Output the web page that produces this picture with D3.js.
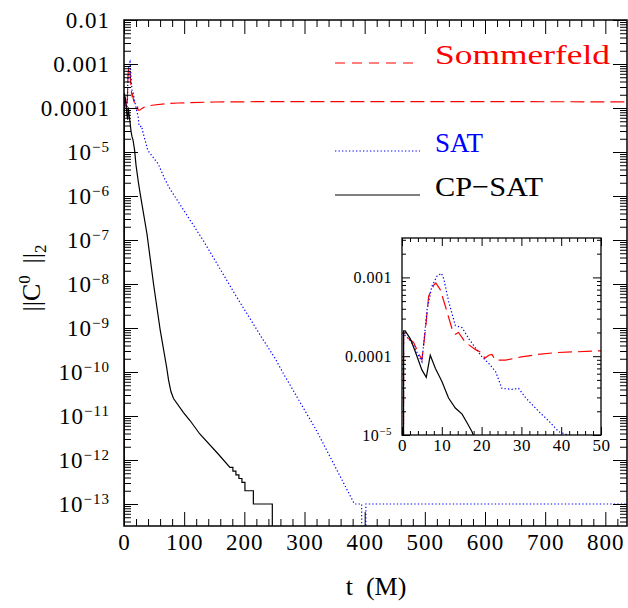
<!DOCTYPE html>
<html>
<head>
<meta charset="utf-8">
<script src="https://cdn.jsdelivr.net/npm/d3@7"></script>
<style>
  body { margin: 0; background: #fff; }
  svg { display: block; }
</style>
</head>
<body>
<svg id="chart" width="628" height="608"></svg>
<script>
// Constraint violation norm vs time, three boundary treatments (value 0 = exactly zero)
const sommerfeld = [
  [0, 0], [0.4, 2.0e-4], [1, 1.85e-4], [1.7, 1.66e-4], [2.9, 1.5e-4], [4.2, 1.08e-4],
  [5.0, 9.0e-5], [5.9, 2.2e-4], [6.7, 5.8e-4], [8.0, 8.0e-4], [8.5, 8.5e-4], [9.6, 7.0e-4],
  [10.9, 4.3e-4], [12.6, 2.2e-4], [13.4, 1.9e-4], [14.2, 2.0e-4], [15.9, 1.5e-4],
  [18.4, 1.22e-4], [20.1, 1.1e-4], [20.8, 9.4e-5], [21.8, 1.03e-4], [22.6, 1.05e-4],
  [23.5, 8.9e-5], [26, 8.9e-5], [30, 9.8e-5], [34, 1.05e-4], [38.5, 1.11e-4], [50, 1.17e-4],
  [70, 1.25e-4], [90, 1.3e-4], [150, 1.37e-4], [250, 1.4e-4], [500, 1.4e-4], [836, 1.38e-4]
];
const sat = [
  [0, 0], [0.4, 1.9e-4], [1, 1.8e-4], [2, 1.6e-4], [3, 1.35e-4], [4, 1.05e-4], [5, 8.5e-5],
  [6.3, 3.9e-4], [7.5, 7.7e-4], [8.8, 1.04e-3], [9.9, 1.13e-3], [10.5, 9.6e-4], [11.7, 5.0e-4],
  [13.4, 2.45e-4], [15.1, 2.3e-4], [16.8, 1.66e-4], [20.1, 9.8e-5], [21.8, 8.1e-5],
  [23.5, 6.4e-5], [25.1, 3.9e-5], [27.6, 3.8e-5], [29.3, 3.9e-5], [31, 3.0e-5], [34.3, 2.0e-5],
  [36.9, 1.5e-5], [39.4, 1.1e-5], [57, 5.3e-6], [68, 2.4e-6], [76.8, 1.42e-6], [132, 9.6e-8],
  [187.5, 5.0e-9], [231.6, 5.3e-10], [251, 2.05e-10], [264.8, 9.3e-11], [320.2, 4.6e-12],
  [383, 1e-13], [395, 1e-13], [396, 0], [401, 0], [402, 1e-13], [836, 1e-13]
];
const cpsat = [
  [0, 0], [0.4, 2.1e-4], [0.8, 2.1e-4], [2.1, 1.66e-4], [3.35, 1.14e-4], [5, 6.7e-5],
  [6.1, 5.4e-5], [7.1, 1.03e-4], [8.4, 7.0e-5], [10, 4.8e-5], [11.7, 2.95e-5], [13.4, 2.2e-5],
  [15.1, 1.84e-5], [16.3, 1.44e-5], [17.6, 1.1e-5], [20, 5e-6], [24, 2e-6], [27, 1.1e-6],
  [38.2, 1.37e-7], [49.1, 1e-8], [60.2, 8.9e-10], [70.8, 1.3e-10], [74, 6.6e-11], [78, 3.6e-11],
  [82.3, 2.5e-11], [98.9, 1.2e-11], [110, 7.8e-12], [126, 3.9e-12], [156.6, 1.37e-12],
  [176, 6.8e-13], [181, 6.8e-13], [181, 5.6e-13], [186, 5.6e-13], [186, 4.6e-13],
  [191, 4.6e-13], [191, 3.8e-13], [196, 3.8e-13], [196, 3.1e-13], [201, 3.1e-13],
  [201, 2e-13], [215, 2e-13], [215, 1e-13], [246.5, 1e-13], [246.5, 0], [836, 0]
];

const seriesNames = ["Sommerfeld", "SAT", "CP\u2212SAT"];

// axis ticks and labels
const mainXTicks = [0, 100, 200, 300, 400, 500, 600, 700, 800];
const mainXLabels = ["0", "100", "200", "300", "400", "500", "600", "700", "800"];
const mainYTicks = [1e-2, 1e-3, 1e-4, 1e-5, 1e-6, 1e-7, 1e-8, 1e-9, 1e-10, 1e-11, 1e-12, 1e-13];
const mainYLabels = ["0.01", "0.001", "0.0001", "10^\u22125", "10^\u22126", "10^\u22127", "10^\u22128",
  "10^\u22129", "10^\u221210", "10^\u221211", "10^\u221212", "10^\u221213"];
const insetXTicks = [0, 10, 20, 30, 40, 50];
const insetXLabels = ["0", "10", "20", "30", "40", "50"];
const insetYTicks = [1e-3, 1e-4, 1e-5];
const insetYLabels = ["0.001", "0.0001", "10^\u22125"];

const FONT = '"Liberation Serif", "Times New Roman", serif';
const svg = d3.select("#chart");
const FLOOR = 1e-30; // zeros are drawn off the bottom of the log axis

const styles = [
  { data: sommerfeld, color: "#ff0000", dash: "14,6", legendDash: "10,7" },
  { data: sat, color: "#0000ff", dash: "1.3,2.2", legendDash: "1.3,2.2" },
  { data: cpsat, color: "#000000", dash: null, legendDash: null }
];

// minor ticks for a log domain: 2..9 in every decade
function logMinor(lo, hi) {
  const out = [];
  for (let e = Math.floor(Math.log10(lo)) - 1; e <= Math.ceil(Math.log10(hi)); e++) {
    for (let k = 2; k <= 9; k++) {
      const v = k * Math.pow(10, e);
      if (v > lo && v < hi) out.push(v);
    }
  }
  return out;
}

// writes "10^-5" as base + superscript
function setLabel(sel, label, supSize) {
  sel.text(null);
  const parts = label.split("^");
  sel.append("tspan").text(parts[0]);
  if (parts.length > 1) {
    sel.append("tspan")
      .attr("dy", -supSize * 0.55)
      .style("font-size", supSize + "px")
      .text(parts[1]);
  }
}

function drawPanel(g, box, opt) {
  const x = d3.scaleLinear().domain(opt.xDomain).range([box.left, box.right]);
  const y = d3.scaleLog().domain(opt.yDomain).range([box.bottom, box.top]);

  g.append("rect")
    .attr("x", box.left).attr("y", box.top)
    .attr("width", box.right - box.left).attr("height", box.bottom - box.top)
    .attr("fill", "#fff");

  const clipId = "clip-" + opt.id;
  g.append("clipPath").attr("id", clipId)
    .append("rect")
    .attr("x", box.left).attr("y", box.top)
    .attr("width", box.right - box.left).attr("height", box.bottom - box.top);

  const line = d3.line()
    .x(d => x(d[0]))
    .y(d => y(Math.max(d[1], FLOOR)));

  const curves = g.append("g").attr("clip-path", `url(#${clipId})`);
  styles.forEach(s => {
    const pts = s.data.filter((d, i, a) => d[0] <= opt.xDomain[1] || (i > 0 && a[i - 1][0] <= opt.xDomain[1]));
    curves.append("path")
      .datum(pts)
      .attr("fill", "none")
      .attr("stroke", s.color)
      .attr("stroke-width", opt.lineWidth)
      .attr("stroke-dasharray", s.dash)
      .attr("d", line);
  });

  const tickStyle = sel => {
    sel.attr("font-family", FONT);
    sel.select(".domain").remove();
    sel.selectAll(".tick line").attr("stroke", "#000").attr("stroke-width", 1);
  };

  // bottom and top axes, ticks pointing inward
  g.append("g")
    .attr("transform", `translate(0,${box.bottom})`)
    .call(d3.axisBottom(x).tickValues(opt.xTicks).tickSize(-opt.major).tickPadding(opt.xPad)
      .tickFormat((d, i) => opt.xLabels[i]))
    .call(tickStyle)
    .call(a => a.selectAll(".tick text")
      .attr("fill", "#000")
      .style("font-family", FONT)
      .style("font-size", opt.xFont + "px")
      .style("letter-spacing", opt.spacing + "px"));
  g.append("g")
    .attr("transform", `translate(0,${box.bottom})`)
    .call(d3.axisBottom(x).tickValues(opt.xMinor).tickSize(-opt.minor).tickFormat(""))
    .call(tickStyle);
  g.append("g")
    .attr("transform", `translate(0,${box.top})`)
    .call(d3.axisTop(x).tickValues(opt.xTicks).tickSize(-opt.major).tickFormat(""))
    .call(tickStyle);
  g.append("g")
    .attr("transform", `translate(0,${box.top})`)
    .call(d3.axisTop(x).tickValues(opt.xMinor).tickSize(-opt.minor).tickFormat(""))
    .call(tickStyle);

  // left and right axes
  const yMinor = logMinor(opt.yDomain[0], opt.yDomain[1]);
  g.append("g")
    .attr("transform", `translate(${box.left},0)`)
    .call(d3.axisLeft(y).tickValues(opt.yTicks).tickSize(-opt.major).tickPadding(opt.yPad)
      .tickFormat(""))
    .call(tickStyle)
    .call(a => a.selectAll(".tick text")
      .attr("fill", "#000")
      .style("font-family", FONT)
      .style("font-size", opt.yFont + "px")
      .style("letter-spacing", opt.spacing + "px")
      .each(function (d, i) { setLabel(d3.select(this), opt.yLabels[i], opt.supFont); }));
  g.append("g")
    .attr("transform", `translate(${box.left},0)`)
    .call(d3.axisLeft(y).tickValues(yMinor).tickSize(-opt.minor).tickFormat(""))
    .call(tickStyle);
  g.append("g")
    .attr("transform", `translate(${box.right},0)`)
    .call(d3.axisRight(y).tickValues(opt.yTicks).tickSize(-opt.major).tickFormat(""))
    .call(tickStyle);
  g.append("g")
    .attr("transform", `translate(${box.right},0)`)
    .call(d3.axisRight(y).tickValues(yMinor).tickSize(-opt.minor).tickFormat(""))
    .call(tickStyle);

  g.append("rect")
    .attr("x", box.left).attr("y", box.top)
    .attr("width", box.right - box.left).attr("height", box.bottom - box.top)
    .attr("fill", "none")
    .attr("stroke", "#000")
    .attr("stroke-width", opt.frameWidth);
}

// main panel
drawPanel(svg.append("g"), { left: 124, right: 627, top: 20, bottom: 526 }, {
  id: "main",
  xDomain: [0, 836], yDomain: [Math.pow(10, -13.5), 1e-2],
  xTicks: mainXTicks, xLabels: mainXLabels, xMinor: d3.range(20, 836, 20).filter(v => v % 100 !== 0),
  yTicks: mainYTicks, yLabels: mainYLabels,
  major: 14, minor: 7, xPad: 8, yPad: 14,
  xFont: 23, yFont: 23, supFont: 15, spacing: 1,
  lineWidth: 1.2, frameWidth: 1.5
});

// inset zoom on early times
drawPanel(svg.append("g"), { left: 402, right: 601, top: 238, bottom: 435 }, {
  id: "inset",
  xDomain: [0, 50], yDomain: [1e-5, Math.pow(10, -2.5)],
  xTicks: insetXTicks, xLabels: insetXLabels, xMinor: d3.range(2, 50, 2).filter(v => v % 10 !== 0),
  yTicks: insetYTicks, yLabels: insetYLabels,
  major: 8, minor: 4, xPad: 4, yPad: 10,
  xFont: 17, yFont: 16, supFont: 11, spacing: 0.5,
  lineWidth: 1.2, frameWidth: 1.3
});

// legend
const legendY = [63, 151, 195];
const legendLen = [175, 48, 108];
styles.forEach((s, i) => {
  svg.append("line")
    .attr("x1", 335).attr("x2", 420)
    .attr("y1", legendY[i]).attr("y2", legendY[i])
    .attr("stroke", s.color)
    .attr("stroke-width", 1.2)
    .attr("stroke-dasharray", s.legendDash);
  svg.append("text")
    .attr("x", 435).attr("y", legendY[i] + 1)
    .attr("fill", s.color)
    .attr("textLength", legendLen[i])
    .attr("lengthAdjust", "spacingAndGlyphs")
    .style("font-family", FONT)
    .style("font-size", "28px")
    .text(seriesNames[i]);
});

// axis titles
svg.append("text")
  .attr("x", 376).attr("y", 595)
  .attr("text-anchor", "middle")
  .style("font-family", FONT)
  .style("font-size", "26px")
  .attr("xml:space", "preserve")
  .text("t  (M)");

const yTitle = svg.append("text")
  .attr("transform", "translate(40,278) rotate(-90)")
  .attr("text-anchor", "middle")
  .style("font-family", FONT)
  .style("font-size", "26px");
yTitle.append("tspan").text("||C");
yTitle.append("tspan").attr("dy", -10).style("font-size", "17px").text("0");
yTitle.append("tspan").attr("dy", 10).text("\u2009 ||");
yTitle.append("tspan").attr("dy", 6).style("font-size", "17px").text("2");
</script>
</body>
</html>
